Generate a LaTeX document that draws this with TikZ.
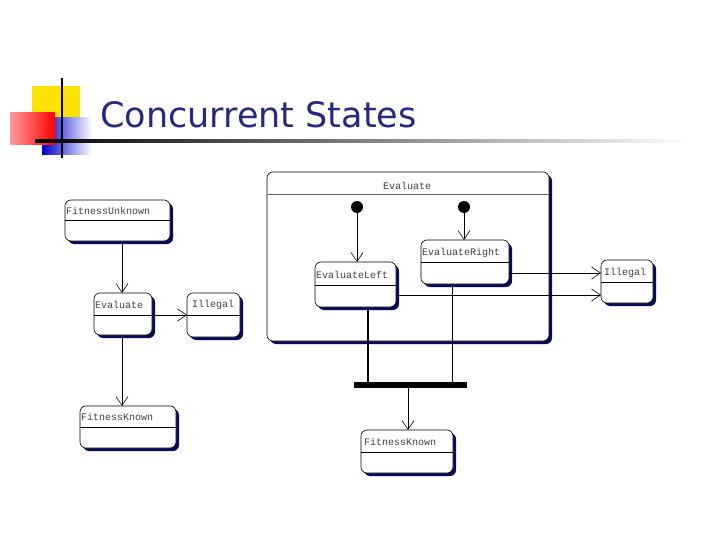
\documentclass[tikz,border=0pt]{standalone}
\usepackage{fontspec}
\setmainfont{DejaVu Sans}
\newfontfamily\monof{Liberation Mono}
\usetikzlibrary{arrows.meta,shadows}
\definecolor{navy}{RGB}{40,40,130}
\definecolor{shd}{RGB}{10,10,90}
\tikzset{
 st/.style={draw=black,line width=0.6pt,fill=white,rounded corners=6pt,drop shadow={shadow xshift=3pt,shadow yshift=-3pt,fill=shd,opacity=1}},
 lbl/.style={font=\monof\fontsize{10}{10}\selectfont,anchor=west,inner sep=1pt,text=black!75},
 ar/.style={-{Straight Barb[length=9pt,width=12pt]},line width=0.6pt},
}
\begin{document}
\begin{tikzpicture}[x=1pt,y=-1pt]
\useasboundingbox (0,0) rectangle (720,540);
% logo
\fill[yellow!85!orange] (32,86) rectangle (80,125);
\shade[left color=blue!80!black,right color=white] (42,118) rectangle (92,155);
\shade[left color=red!40,right color=red] (10,113) rectangle (55,145);
\draw[line width=2pt] (62,78) -- (62,158);
\shade[left color=black,right color=white] (35,140) rectangle (690,142.5);
\node[anchor=base west,text=navy,font=\fontsize{35}{35}\selectfont,inner sep=0] (title) at (100,128) {Concurrent States};
% left diagram
\draw[st] (65,200) rectangle (170,241); \draw (65,220) -- (170,220);
\node[lbl] (fu) at (65,211) {FitnessUnknown};
\coordinate (fuB) at (122,241);
\draw[st] (94,293) rectangle (152,335); \draw (94,315) -- (152,315);
\node[lbl] (ev) at (94,305) {Evaluate};
\coordinate (evT) at (122,293); \coordinate (evB) at (122,335); \coordinate (evR) at (152,315);
\draw[st] (187,293) rectangle (240,337); \draw (187,315) -- (240,315);
\node[lbl] (il) at (191,305) {Illegal};
\coordinate (ilL) at (187,315);
\draw[st] (80,406) rectangle (176,448); \draw (80,427) -- (176,427);
\node[lbl] (fk) at (80,417) {FitnessKnown};
\coordinate (fkT) at (122,406);
\draw[ar] (fuB) -- (evT);
\draw[ar] (evR) -- (ilL);
\draw[ar] (evB) -- (fkT);
% right diagram
\draw[st] (267,172) rectangle (549,341); \draw[black!60] (267,194) -- (549,194);
\node[lbl] (bev) at (382,186) {Evaluate};
\fill (357,207) circle (6); \fill (464,207) circle (6);
\coordinate (i1) at (357,207); \coordinate (i2) at (464,207);
\draw[st] (315,262) rectangle (396,307); \draw (315,285) -- (396,285);
\node[lbl] (el) at (315,275) {EvaluateLeft};
\draw[st] (421,240) rectangle (509,284); \draw (421,262) -- (509,262);
\node[lbl] (er) at (421,253) {EvaluateRight};
\draw[st] (601,260) rectangle (653,303); \draw (601,282) -- (653,282);
\node[lbl] (il2) at (603,273) {Illegal};
\draw[ar] (i1) -- (357,262);
\draw[ar] (i2) -- (464,240);
\coordinate (erR) at (509,273); \coordinate (ilA) at (601,273);
\coordinate (elR) at (396,295); \coordinate (ilB) at (601,295);
\draw[ar] (erR) -- (ilA);
\draw[ar] (elR) -- (ilB);
\fill (354,382) rectangle (467,388);
\coordinate (b1) at (368,382); \coordinate (b2) at (452,382); \coordinate (b3) at (408,388);
\draw[line width=1.5pt] (368,307) -- (b1);
\draw[line width=0.6pt] (452,284) -- (b2);
\draw[st] (361,430) rectangle (453,473); \draw (361,452) -- (453,452);
\node[lbl] (fk2) at (363,442) {FitnessKnown};
\draw[ar] (b3) -- (408,430);
\end{tikzpicture}
\end{document}
